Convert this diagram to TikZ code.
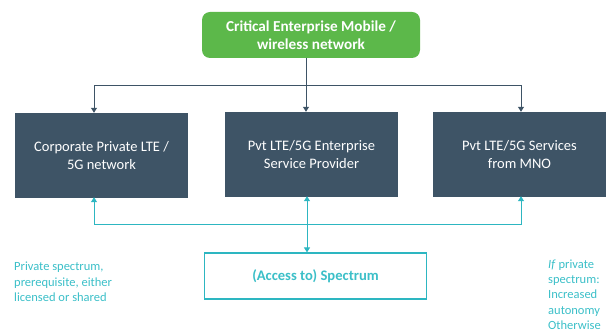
\documentclass[tikz,border=0pt]{standalone}
\usepackage{fontspec}
\setmainfont{Carlito}
\usetikzlibrary{arrows.meta}
\definecolor{cgreen}{HTML}{5CB84A}
\definecolor{cdark}{HTML}{3E5466}
\definecolor{cteal}{HTML}{2DB6C1}
\definecolor{ctealtext}{HTML}{3BBFC8}
\tikzset{
  darkbox/.style={fill=cdark, text=white, minimum width=173pt, minimum height=85pt, align=center, inner sep=0pt, font=\fontsize{14.5}{17.5}\selectfont},
  topbox/.style={fill=cgreen, text=white, rounded corners=8pt, minimum width=218pt, minimum height=46pt, align=center, inner sep=0pt, font=\bfseries\fontsize{15.2}{17.5}\selectfont},
  specbox/.style={draw=cteal, line width=1.2pt, fill=white, text=ctealtext, minimum width=222pt, minimum height=46pt, inner sep=0pt, font=\bfseries\fontsize{14.6}{17}\selectfont},
  note/.style={text=ctealtext, align=left, inner sep=0pt, font=\fontsize{12.5}{15.3}\selectfont},
  darkarrow/.style={draw=cdark, line width=1pt, -{Triangle[width=6pt,length=5pt]}},
  tealarrow/.style={draw=cteal, line width=1pt, -{Triangle[width=6pt,length=5pt]}},
  tealdouble/.style={draw=cteal, line width=1pt, {Triangle[width=6pt,length=5pt]}-{Triangle[width=6pt,length=5pt]}},
}
\begin{document}
\begin{tikzpicture}[x=1pt,y=-1pt]
\useasboundingbox (0,0) rectangle (606,336);
\node[topbox] (top) at (311,35) {Critical Enterprise Mobile /\\wireless network};
\node[darkbox] (b1) at (101.5,155.5) {Corporate Private LTE /\\5G network};
\node[darkbox] (b2) at (311.5,154.5) {Pvt LTE/5G Enterprise\\Service Provider};
\node[darkbox] (b3) at (519.5,154.5) {Pvt LTE/5G Services\\from MNO};
\node[specbox] (spec) at (315.5,276) {(Access to) Spectrum};
\node[note, anchor=north west] (left) at (14,262) {Private spectrum,\\prerequisite, either\\licensed or shared};
\node[note, anchor=north west] (right) at (548,259.5) {\textit{If} private\\spectrum:\\Increased\\autonomy\\Otherwise};
\coordinate (tj) at (306,86);
\coordinate (tl) at (94,86);
\coordinate (tr) at (521,86);
\draw[draw=cdark, line width=1pt] (top.south -| tj) -- (tj);
\draw[darkarrow] (tj) -| (b1.north -| tl);
\draw[darkarrow] (tj) -| (b3.north -| tr);
\draw[darkarrow] (tj) -- (b2.north -| tj);
\coordinate (bj) at (307,225);
\coordinate (bl) at (94,225);
\coordinate (br) at (521,225);
\draw[tealarrow] (bj) -| ([yshift=1pt]b1.south -| bl);
\draw[tealarrow] (bj) -| ([yshift=1pt]b3.south -| br);
\draw[tealdouble] ([yshift=1pt]b2.south -| bj) -- (spec.north -| bj);
\end{tikzpicture}
\end{document}
